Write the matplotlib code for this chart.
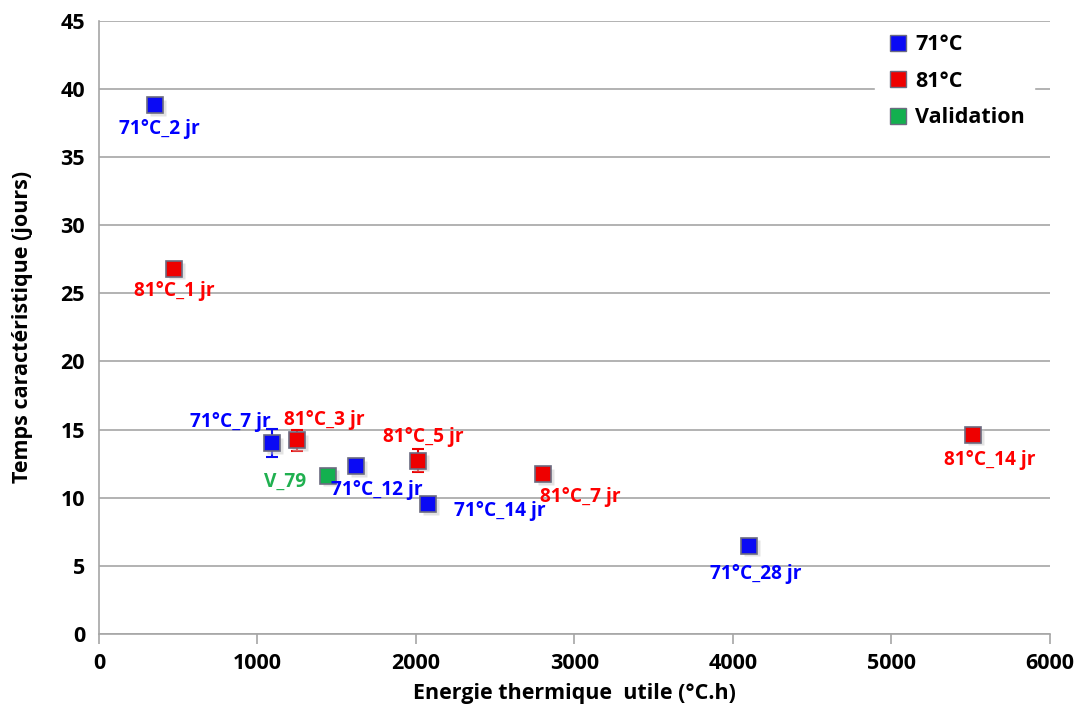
import matplotlib
matplotlib.use("Agg")
import matplotlib.pyplot as plt
from matplotlib.lines import Line2D

plt.rcParams['font.family'] = ['Open Sans', 'DejaVu Sans']
plt.rcParams['font.weight'] = 'bold'

# 71°C series
x71 = [353, 1091, 1621, 2076, 4101]
y71 = [38.8, 14.0, 12.3, 9.5, 6.45]
e71 = [0.0, 1.05, 0.0, 0.0, 0.0]
lab71 = ['71°C_2 jr', '71°C_7 jr', '71°C_12 jr', '71°C_14 jr', '71°C_28 jr']

# 81°C series
x81 = [473, 1249, 2013, 2801, 5514]
y81 = [26.8, 14.2, 12.7, 11.7, 14.6]
e81 = [0.35, 0.75, 0.85, 0.3, 0.0]
lab81 = ['81°C_1 jr', '81°C_3 jr', '81°C_5 jr', '81°C_7 jr', '81°C_14 jr']

# validation
xv = [1445]
yv = [11.6]
labv = ['V_79']

# label offsets (points)
off71 = [(3, -17), (-30, 15), (15, -17), (52, -5), (5, -20)]
off81 = [(0, -16), (20, 15), (4, 17), (27, -16), (12, -18)]
offv = [(-31, -4)]

fig, ax = plt.subplots(figsize=(10.83, 7.26), dpi=100)
fig.subplots_adjust(left=0.0914, right=0.9695, top=0.971, bottom=0.127)

ax.set_xlim(0, 6000)
ax.set_ylim(0, 45)
ax.set_xticks(range(0, 6001, 1000))
ax.set_yticks(range(0, 46, 5))
ax.yaxis.grid(True, color='#a6a6a6', lw=1.2)
ax.set_axisbelow(True)
for s in ['top', 'right']:
    ax.spines[s].set_visible(False)
for s in ['left', 'bottom']:
    ax.spines[s].set_color('#a6a6a6')
    ax.spines[s].set_linewidth(1.2)
ax.tick_params(axis='x', colors='#a6a6a6', length=7, width=1.2, labelcolor='black', labelsize=15.5, pad=7)
ax.tick_params(axis='y', colors='#a6a6a6', length=0, labelcolor='black', labelsize=15.5, pad=10)

ms = 11.5
series = [
    (x71, y71, e71, lab71, off71, '#0a0af5', '#0000ff'),
    (x81, y81, e81, lab81, off81, '#ee0000', '#ff0000'),
    (xv, yv, [0], labv, offv, '#13b04f', '#20b050'),
]
for xs, ys, es, labs, offs, face, tcol in series:
    ax.errorbar(xs, ys, yerr=es, fmt='none', ecolor=face, elinewidth=1.5, capsize=4, capthick=1.5, zorder=2)
    ax.plot([x + 18 for x in xs], [y - 0.18 for y in ys], 's', ms=ms, color='#c8c8c8', alpha=0.5, mec='none', zorder=2)
    ax.plot(xs, ys, 's', ms=ms, mfc=face, mec='#6b6b80', mew=1.2, zorder=3)
    for x, y, lab, off in zip(xs, ys, labs, offs):
        ax.annotate(lab, (x, y), xytext=off, textcoords='offset points', ha='center', va='center',
                    color=tcol, fontsize=13.8, fontweight='bold', zorder=4)

ax.set_xlabel('Energie thermique  utile (°C.h)', fontsize=15.5, fontweight='bold', labelpad=6)
ax.set_ylabel('Temps caractéristique (jours)', fontsize=15.5, fontweight='bold', labelpad=20)

handles = [Line2D([], [], ls='none', marker='s', ms=11, mfc=c, mec='#6b6b80', mew=1) for c in ['#0a0af5', '#ee0000', '#13b04f']]
leg = ax.legend(handles, ['71°C', '81°C', 'Validation'], loc='upper right', bbox_to_anchor=(0.995, 1.012),
                frameon=True, fancybox=False, edgecolor='white', framealpha=1, fontsize=15.5,
                handletextpad=0.2, labelspacing=0.72, borderpad=0.45, handlelength=1.2)
for t in leg.get_texts():
    t.set_fontweight('bold')

fig.savefig('out.png', dpi=100)
